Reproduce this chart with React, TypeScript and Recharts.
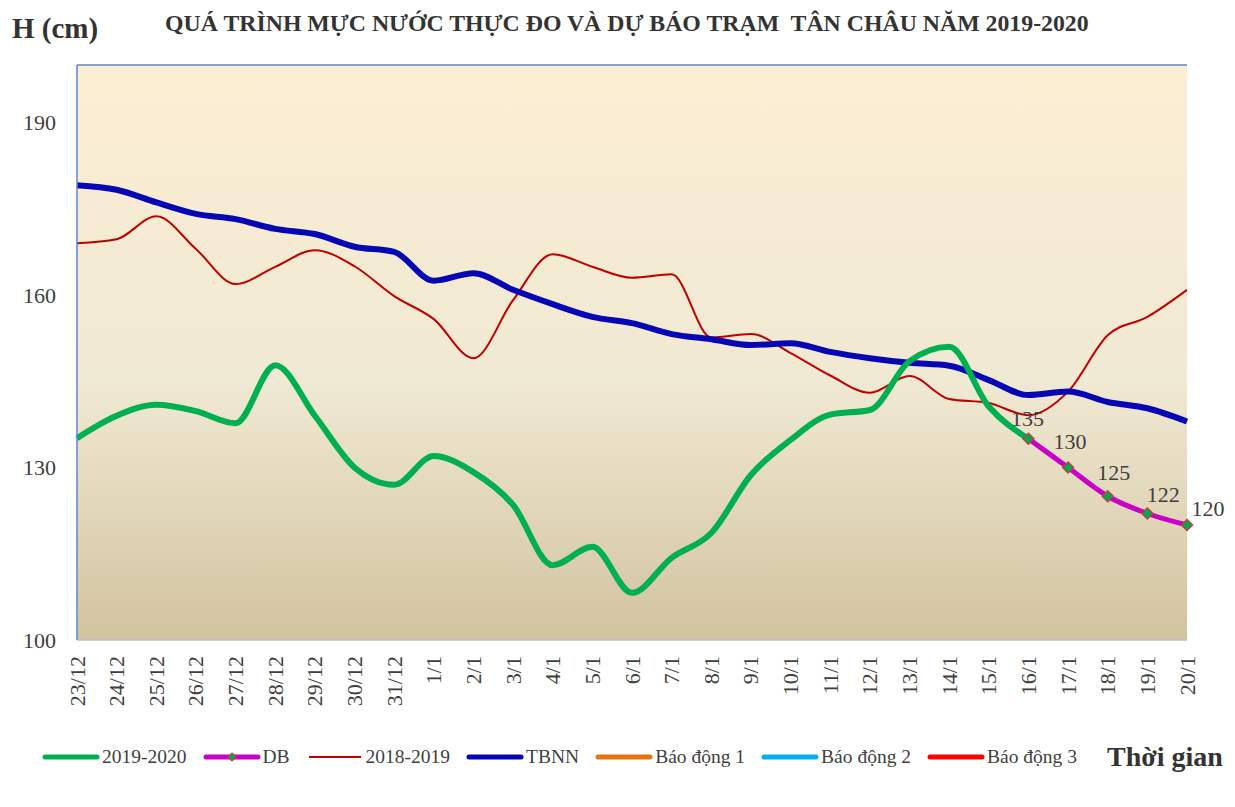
import React from 'react';
import { LineChart, Line, XAxis, YAxis, CartesianGrid, Legend, LabelList, ReferenceLine } from 'recharts';

const categories = ['23/12','24/12','25/12','26/12','27/12','28/12','29/12','30/12','31/12','1/1','2/1','3/1','4/1','5/1','6/1','7/1','8/1','9/1','10/1','11/1','12/1','13/1','14/1','15/1','16/1','17/1','18/1','19/1','20/1'];

const season2019_2020 = [135.1, 139.0, 140.9, 139.8, 137.7, 147.8, 139.0, 130.0, 127.0, 132.0, 129.2, 123.5, 113.0, 116.2, 108.2, 114.3, 118.6, 128.7, 134.8, 139.2, 140.0, 148.5, 151.0, 140.6, 135.0, null, null, null, null];
const forecastDB = [null, null, null, null, null, null, null, null, null, null, null, null, null, null, null, null, null, null, null, null, null, null, null, null, 135, 130, 125, 122, 120];
const season2018_2019 = [169.0, 169.7, 173.7, 168.0, 161.9, 164.9, 167.8, 165.0, 159.8, 155.8, 149.0, 159.1, 167.1, 164.9, 163.0, 163.6, 152.6, 153.2, 149.9, 146.0, 143.0, 145.9, 141.9, 141.2, 139.1, 143.2, 153.0, 156.2, 160.9];
const averageTBNN = [179.1, 178.3, 176.1, 174.1, 173.2, 171.5, 170.6, 168.4, 167.5, 162.5, 163.8, 160.9, 158.4, 156.2, 155.1, 153.2, 152.3, 151.3, 151.6, 150.1, 149.0, 148.2, 147.7, 145.2, 142.6, 143.2, 141.4, 140.3, 138.0];
const alarmLevels = [350, 400, 450];

const yTicks = [100, 130, 160, 190];
const yMax = 200;

const data = categories.map((cat, i) => ({
  cat,
  s1920: season2019_2020[i],
  db: forecastDB[i],
  s1819: season2018_2019[i],
  tbnn: averageTBNN[i],
  bd1: alarmLevels[0],
  bd2: alarmLevels[1],
  bd3: alarmLevels[2],
}));

const FONT = '"Liberation Serif", "Times New Roman", serif';
const TEXT = '#404040';

const legendItems = [
  { name: '2019-2020', color: '#00B050', width: 5, round: true, marker: false },
  { name: 'DB', color: '#C800C8', width: 5, round: true, marker: true },
  { name: '2018-2019', color: '#C00000', width: 2, round: false, marker: false },
  { name: 'TBNN', color: '#0606B4', width: 5, round: true, marker: false },
  { name: 'Báo động 1', color: '#E8740F', width: 5, round: true, marker: false },
  { name: 'Báo động 2', color: '#00B0F0', width: 5, round: true, marker: false },
  { name: 'Báo động 3', color: '#FF0000', width: 5, round: true, marker: false },
];

const dbLabelOffsets = [
  { dx: -1, dy: -20 },
  { dx: 2, dy: -26 },
  { dx: 6, dy: -24 },
  { dx: 16, dy: -19 },
  { dx: 21, dy: -17 },
];

const XTick = (props: any) => {
  const { x, y, payload } = props;
  const ty = y + 8;
  return (
    <text
      x={x}
      y={ty}
      transform={`rotate(-90, ${x}, ${ty})`}
      textAnchor="end"
      dominantBaseline="central"
      fontFamily={FONT}
      fontSize={22}
      fill={TEXT}
    >
      {payload.value}
    </text>
  );
};

const Diamond = (props: any) => {
  const { cx, cy, value } = props;
  if (value == null || cx == null || cy == null) return null;
  const r = 5.5;
  return (
    <polygon
      points={`${cx},${cy - r} ${cx + r},${cy} ${cx},${cy + r} ${cx - r},${cy}`}
      fill="#00A84F"
      stroke="#B5453F"
      strokeWidth={1.5}
    />
  );
};

const DbLabel = (props: any) => {
  const { x, y, value, index } = props;
  if (value == null) return null;
  const k = index - 24;
  const off = dbLabelOffsets[k] || { dx: 0, dy: -20 };
  return (
    <text
      x={x + off.dx}
      y={y + off.dy}
      textAnchor="middle"
      dominantBaseline="central"
      fontFamily={FONT}
      fontSize={22}
      fill={TEXT}
    >
      {value}
    </text>
  );
};

const LegendContent = () => (
  <div style={{ display: 'flex', alignItems: 'center', paddingLeft: 42, height: 24, fontFamily: FONT, color: TEXT }}>
    {legendItems.map((it) => (
      <div key={it.name} style={{ display: 'flex', alignItems: 'center', marginRight: 16 }}>
        <svg width={58} height={14} style={{ display: 'block' }}>
          <line x1={3} y1={7} x2={55} y2={7} stroke={it.color} strokeWidth={it.width} strokeLinecap={it.round ? 'round' : 'butt'} />
          {it.marker && (
            <polygon points="29,3 33,7 29,11 25,7" fill="#00A84F" stroke="#B5453F" strokeWidth={1.2} />
          )}
        </svg>
        <span style={{ fontSize: 19.5, marginLeft: 2, whiteSpace: 'nowrap' }}>{it.name}</span>
      </div>
    ))}
    <span style={{ fontSize: 28, fontWeight: 'bold', marginLeft: 14, color: '#333', whiteSpace: 'nowrap' }}>Thời gian</span>
  </div>
);

export default function App() {
  return (
    <div style={{ position: 'absolute', left: 0, top: 0, width: 1235, height: 807, background: '#fff' }}>
      <div style={{ position: 'absolute', left: 12, top: 14, fontFamily: FONT, fontWeight: 'bold', fontSize: 29, lineHeight: 1, color: '#333', whiteSpace: 'nowrap' }}>
        H (cm)
      </div>
      <div style={{ position: 'absolute', left: 165, top: 12, fontFamily: FONT, fontWeight: 'bold', fontSize: 23.8, lineHeight: 1, color: '#333', whiteSpace: 'pre' }}>
        QUÁ TRÌNH MỰC NƯỚC THỰC ĐO VÀ DỰ BÁO TRẠM  TÂN CHÂU NĂM 2019-2020
      </div>
      <LineChart width={1235} height={807} data={data} margin={{ top: 65, right: 48, left: 0, bottom: 67 }}>
        <defs>
          <linearGradient id="plotBg" x1="0" y1="0" x2="0" y2="1">
            <stop offset="0%" stopColor="#FCEED3" />
            <stop offset="55%" stopColor="#F0E9D3" />
            <stop offset="100%" stopColor="#D2C39E" />
          </linearGradient>
        </defs>
        <CartesianGrid fill="url(#plotBg)" horizontal={false} vertical={false} />
        <XAxis
          dataKey="cat"
          interval={0}
          tickLine={false}
          axisLine={{ stroke: '#B4BFD0', strokeWidth: 1.5 }}
          height={100}
          tick={<XTick />}
        />
        <YAxis
          domain={[100, yMax]}
          ticks={yTicks}
          allowDataOverflow
          width={77}
          tickLine={false}
          tickSize={0}
          tickMargin={21}
          axisLine={{ stroke: '#5A8AC6', strokeWidth: 1.5 }}
          tick={{ fontFamily: FONT, fontSize: 22, fill: TEXT }}
        />
        <YAxis yAxisId="right" orientation="right" domain={[100, yMax]} allowDataOverflow tick={false} tickLine={false} axisLine={{ stroke: '#5A8AC6', strokeWidth: 1.5 }} width={0} />
        <ReferenceLine y={yMax} stroke="#5A8AC6" strokeWidth={1.5} />
        <Legend
          layout="horizontal"
          verticalAlign="middle"
          align="center"
          wrapperStyle={{ left: 0, top: 745, width: 1235, height: 24 }}
          content={<LegendContent />}
        />
        <Line name="Báo động 1" dataKey="bd1" type="monotone" stroke="#E8740F" strokeWidth={5} dot={false} isAnimationActive={false} />
        <Line name="Báo động 2" dataKey="bd2" type="monotone" stroke="#00B0F0" strokeWidth={5} dot={false} isAnimationActive={false} />
        <Line name="Báo động 3" dataKey="bd3" type="monotone" stroke="#FF0000" strokeWidth={5} dot={false} isAnimationActive={false} />
        <Line name="2018-2019" dataKey="s1819" type="monotone" stroke="#C00000" strokeWidth={2} dot={false} isAnimationActive={false} />
        <Line name="TBNN" dataKey="tbnn" type="monotone" stroke="#0606B4" strokeWidth={6} dot={false} isAnimationActive={false} />
        <Line name="2019-2020" dataKey="s1920" type="monotone" stroke="#00B050" strokeWidth={6} dot={false} isAnimationActive={false} />
        <Line name="DB" dataKey="db" type="monotone" stroke="#C800C8" strokeWidth={5} dot={<Diamond />} activeDot={false} isAnimationActive={false}>
          <LabelList dataKey="db" content={<DbLabel />} />
        </Line>
      </LineChart>
    </div>
  );
}
